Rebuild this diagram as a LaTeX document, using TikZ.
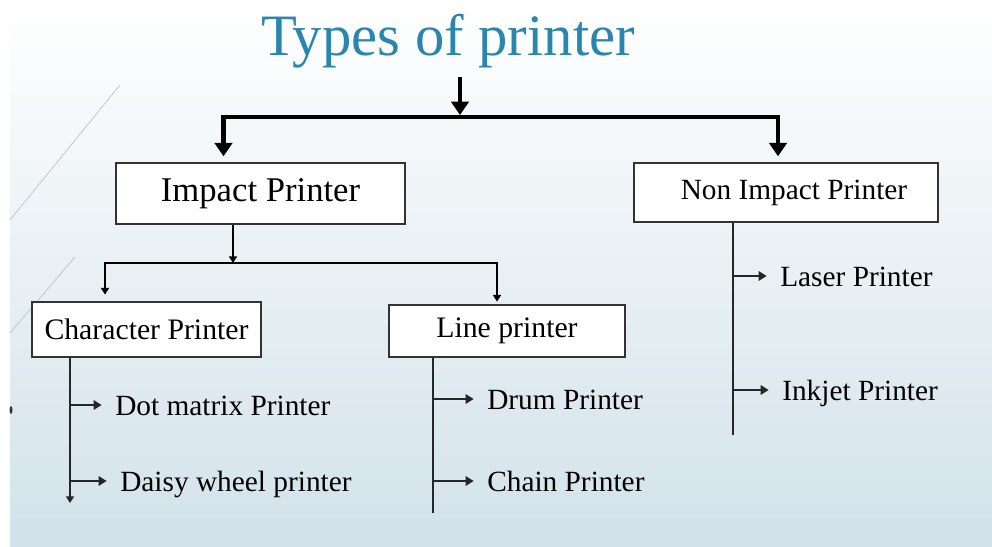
\documentclass[tikz,border=0pt]{standalone}
\usepackage{fontspec}
\setmainfont{Liberation Serif}
\usetikzlibrary{arrows.meta,calc}

\definecolor{titleblue}{RGB}{42,134,174}
\definecolor{slidebot}{RGB}{210,226,234}

\begin{document}
\begin{tikzpicture}[x=0.75pt,y=-0.75pt,
        box/.style={draw=black!80,line width=1.1pt,fill=white,inner sep=0pt},
        bigarrow/.style={line width=3.2pt,-{Triangle[width=13pt,length=10pt]}},
        midarrow/.style={line width=1.8pt,-{Triangle[width=6pt,length=5pt]}},
        trunk/.style={line width=2.2pt,black!85},
        leaf/.style={anchor=west,inner xsep=0pt,inner ysep=0pt,
            font=\fontsize{22}{26}\selectfont,text height=15pt,text depth=0pt},
        leafarrow/.style={line width=2pt,black!85,shorten >=10pt,
            -{Triangle[width=7pt,length=6pt]}}]
    \useasboundingbox (0,0) rectangle (992,546);
    % slide background
    \shade[top color=white,bottom color=slidebot] (10,0) rectangle (992,546);
    \draw[black!25,line width=0.5pt] (10,220) -- (120,85);
    \draw[black!25,line width=0.5pt] (10,333) -- (75,257);
    \fill[black!80] (11,410) ellipse (1.5 and 4);

    \node[anchor=base,text=titleblue,font=\fontsize{44}{50}\selectfont] (title) at (448,55) {Types of printer};

    % first level
    \node[box,minimum width=216.75pt,minimum height=45.75pt,font=\fontsize{26}{30}\selectfont]
        (impact) at (260.5,193.5) {Impact Printer};
    \node[box,minimum width=228pt,minimum height=44.25pt,font=\fontsize{22}{26}\selectfont]
        (nonimpact) at (786,192.5) {\hspace{12pt}Non Impact Printer};

    \coordinate (fork) at (460,117);
    \draw[bigarrow] (460,77) -- (460,115);
    \draw[bigarrow,shorten >=4.5pt] (fork) -| ($(impact.north)+(-37,0)$);
    \draw[bigarrow,shorten >=4.5pt] (fork) -| ($(nonimpact.north)+(-8,0)$);

    % impact printers
    \node[box,minimum width=171.75pt,minimum height=41.25pt,font=\fontsize{22.3}{26}\selectfont]
        (charbox) at (146.5,329.5) {Character Printer};
    \node[box,minimum width=177pt,minimum height=39pt,font=\fontsize{22.3}{26}\selectfont]
        (linebox) at (507,331) {Line printer\hspace{8pt}};

    \coordinate (split) at (233,263);
    \draw[midarrow] ($(impact.south)+(-27.5,0)$) -- (split);
    \draw[midarrow,shorten >=5pt] ($(split)+(0.1,0)$) -| ($(charbox.north)+(-41.5,0)$);
    \draw[midarrow,shorten >=2pt] ($(split)+(-0.1,0)$) -| ($(linebox.north)+(-10,0)$);

    % character printers
    \coordinate (chartrunk) at ($(charbox.south)+(-76.5,0)$);
    \draw[trunk,-{Triangle[width=6pt,length=5pt]}] (chartrunk) -- (chartrunk |- 0,503);
    \node[leaf] (dot) at (115,405) {Dot matrix Printer};
    \node[leaf] (daisy) at (120,481) {Daisy wheel printer};
    \draw[leafarrow] (chartrunk |- dot.west) -- (dot.west);
    \draw[leafarrow] (chartrunk |- daisy.west) -- (daisy.west);

    % line printers
    \coordinate (linetrunk) at ($(linebox.south)+(-74,0)$);
    \draw[trunk] (linetrunk) -- (linetrunk |- 0,513);
    \node[leaf] (drum) at (487,399) {Drum Printer};
    \node[leaf] (chain) at (487,481) {Chain Printer};
    \draw[leafarrow] (linetrunk |- drum.west) -- (drum.west);
    \draw[leafarrow] (linetrunk |- chain.west) -- (chain.west);

    % non impact printers
    \coordinate (nontrunk) at ($(nonimpact.south)+(-53,0)$);
    \draw[trunk] (nontrunk) -- (nontrunk |- 0,435);
    \node[leaf] (laser) at (780,276) {Laser Printer};
    \node[leaf] (inkjet) at (782,390) {Inkjet Printer};
    \draw[leafarrow] (nontrunk |- laser.west) -- (laser.west);
    \draw[leafarrow] (nontrunk |- inkjet.west) -- (inkjet.west);
\end{tikzpicture}
\end{document}
